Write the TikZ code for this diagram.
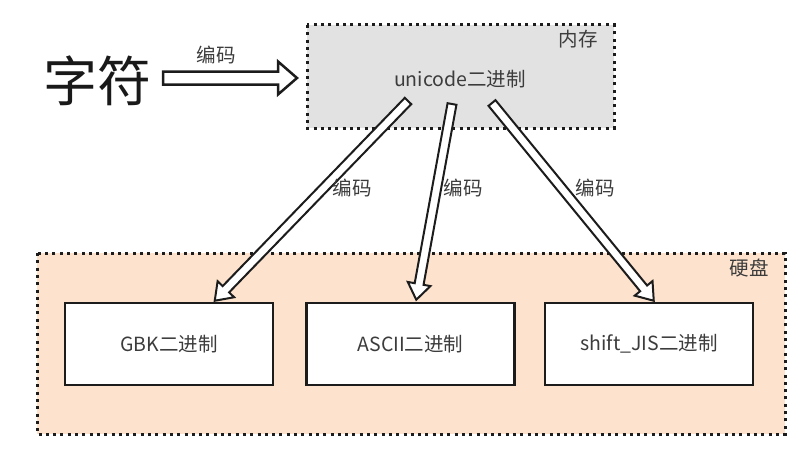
\documentclass[tikz,border=0pt]{standalone}
\usepackage{fontspec}
\setmainfont{Noto Sans CJK SC}
\usetikzlibrary{calc}
\definecolor{memfill}{HTML}{E2E2E2}
\definecolor{diskfill}{HTML}{FDE3CD}
\definecolor{txt}{HTML}{3C3C3C}
\definecolor{edge}{HTML}{1C1C1C}
\tikzset{
  dotbox/.style={draw=edge, line width=3pt, dash pattern=on 3pt off 4.3pt},
  plainbox/.style={draw=edge, fill=white, line width=2.5pt, minimum width=208pt, minimum height=82pt, inner sep=0pt, text=txt, font=\fontsize{19.5}{19.5}\selectfont},
  lbl/.style={text=txt, font=\fontsize{19.5}{19.5}\selectfont, inner sep=0pt},
  harrow/.style n args={4}{draw=edge, fill=white, line width=#4, line join=miter,
    to path={let \p1=(\tikztostart), \p2=(\tikztotarget), \n1={atan2(\y2-\y1,\x2-\x1)} in
      ($(\p1)+(\n1+90:#1)$) -- ($(\p2)+(\n1+180:#3)+(\n1+90:#1)$) -- ($(\p2)+(\n1+180:#3)+(\n1+90:#2)$) -- (\p2)
      -- ($(\p2)+(\n1+180:#3)+(\n1-90:#2)$) -- ($(\p2)+(\n1+180:#3)+(\n1-90:#1)$) -- ($(\p1)+(\n1-90:#1)$) -- cycle}},
  bigarrow/.style={harrow={6.5pt}{16.5pt}{19pt}{2.5pt}},
  diagarrow/.style={harrow={4.5pt}{11.5pt}{16pt}{2pt}}
}
\begin{document}
\begin{tikzpicture}[x=1pt,y=-1pt]
\useasboundingbox (0,0) rectangle (800,452);
% disk area
\path[fill=diskfill] (37,253) rectangle (785,434);
\draw[dotbox] (37,253) rectangle (785,434);
\node[lbl] (disk) at (749,268) {硬盘};
% memory area
\path[fill=memfill] (307,25) rectangle (614,128);
\draw[dotbox] (307,25) rectangle (614,128);
\node[lbl] (mem) at (578,39) {内存};
\node[lbl] (uni) at (460,79) {unicode二进制};
% character
\node[inner sep=0pt, font=\fontsize{54}{54}\selectfont, text=black!90] (zifu) at (97,81) {字符};
% bottom boxes
\node[plainbox] (gbk) at (169,344) {GBK二进制};
\node[plainbox] (ascii) at (410.5,344) {ASCII二进制};
\node[plainbox] (sjis) at (649,344) {shift\_JIS二进制};
% arrow end points
\coordinate (a0s) at (163,78);
\coordinate (a0t) at (297,78);
\coordinate (a1s) at (408,101);
\coordinate (a2s) at (452,104);
\coordinate (a3s) at (492,103);
\coordinate (a1t) at ($(gbk.north west)+(151,-1)$);
\coordinate (a2t) at ($(ascii.north west)+(111,-2)$);
\coordinate (a3t) at ($(sjis.north west)+(110,-1)$);
% arrows
\draw[bigarrow] (a0s) to (a0t);
\node[lbl] (l0) at (216,55) {编码};
\draw[diagarrow] (a1s) to (a1t);
\draw[diagarrow] (a2s) to (a2t);
\draw[diagarrow] (a3s) to (a3t);
\node[lbl] (l1) at (352,188) {编码};
\node[lbl] (l2) at (463,188) {编码};
\node[lbl] (l3) at (595,188) {编码};
\end{tikzpicture}
\end{document}
